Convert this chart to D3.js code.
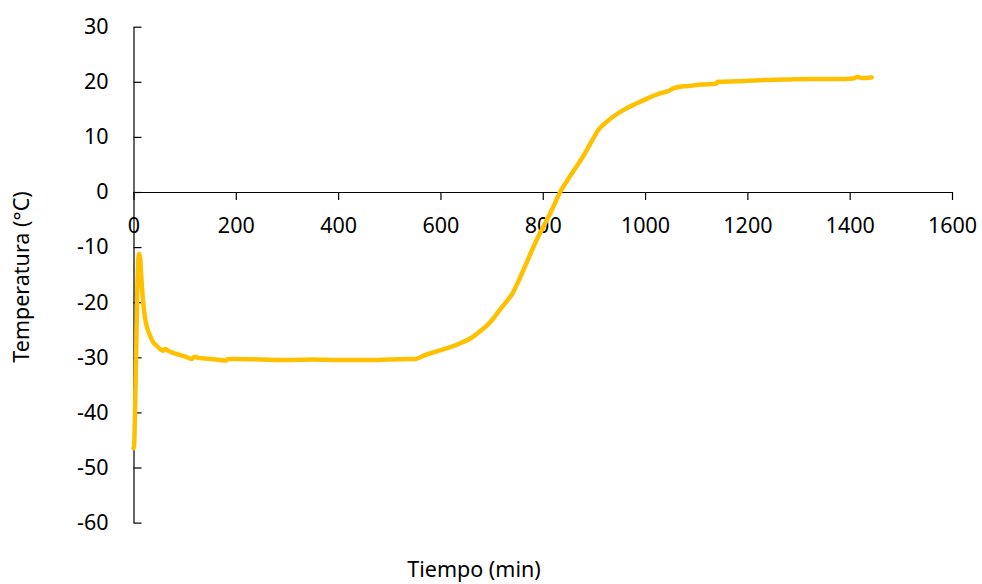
<!DOCTYPE html>
<html>
<head>
<meta charset="utf-8">
<script src="https://cdn.jsdelivr.net/npm/d3@7"></script>
<style>
  html, body { margin: 0; padding: 0; background: #fff; }
  svg { display: block; }
  text { font-family: "Noto Sans", "Open Sans", sans-serif; fill: #000; }
</style>
</head>
<body>
<svg id="chart" width="982" height="584"></svg>
<script>
const timeMin = [0, 1, 3, 5, 7, 9, 11, 13, 15, 18, 22, 26, 32, 38, 45, 52, 58, 62, 66, 75, 84, 95, 105, 114, 118, 122, 126, 140, 169, 180, 185, 200, 250, 300, 350, 400, 450, 500, 540, 550, 555, 570, 590, 612, 640, 660, 677, 690, 703, 716, 730, 742, 752, 762, 775, 788, 808, 820, 834, 848, 863, 875, 886, 898, 909, 922, 938, 960, 984, 1005, 1029, 1045, 1055, 1068, 1081, 1110, 1140, 1142, 1180, 1225, 1275, 1323, 1370, 1407, 1412, 1416, 1422, 1443];
const temperature = [-46.5, -46.3, -40, -30, -20, -13, -11.2, -12, -15, -19, -22.5, -24.4, -26, -27.2, -27.9, -28.5, -28.8, -28.5, -28.7, -29.1, -29.4, -29.7, -30.0, -30.3, -30.0, -29.9, -30.1, -30.2, -30.5, -30.6, -30.3, -30.3, -30.4, -30.5, -30.4, -30.5, -30.5, -30.4, -30.3, -30.3, -30.2, -29.6, -29.0, -28.4, -27.4, -26.5, -25.3, -24.3, -23.0, -21.4, -19.8, -18.2, -16.3, -14.2, -11.4, -8.7, -5.1, -2.8, 0, 2.1, 4.2, 5.9, 7.6, 9.6, 11.3, 12.5, 13.7, 15.0, 16.1, 17.0, 17.9, 18.3, 18.8, 19.1, 19.2, 19.5, 19.7, 20.0, 20.1, 20.3, 20.4, 20.5, 20.5, 20.6, 20.8, 20.9, 20.7, 20.8];
const xTicks = [0, 200, 400, 600, 800, 1000, 1200, 1400, 1600];
const yTicks = [30, 20, 10, 0, -10, -20, -30, -40, -50, -60];
const xTitle = "Tiempo (min)";
const yTitle = "Temperatura (°C)";

const svg = d3.select("#chart");
const x = d3.scaleLinear().domain([0, 1600]).range([133.5, 952]);
const y = d3.scaleLinear().domain([-60, 30]).range([522.6, 26.7]);

const data = timeMin.map((t, i) => ({ t, v: temperature[i] }));
const fmt = d => String(d);

// Y axis (ticks pointing into the plot)
const yAxis = svg.append("g")
  .attr("transform", `translate(${x(0)},0)`)
  .call(d3.axisLeft(y).tickValues(yTicks).tickFormat(fmt)
    .tickSizeInner(-8).tickSizeOuter(0).tickPadding(25));
yAxis.selectAll("text").style("font-size", "21.5px").attr("fill", "#000");
yAxis.selectAll("line, path").attr("stroke", "#000").attr("stroke-width", 1.2);

// X axis at y = 0
const xAxis = svg.append("g")
  .attr("transform", `translate(0,${y(0)})`)
  .call(d3.axisBottom(x).tickValues(xTicks).tickFormat(fmt)
    .tickSizeInner(8).tickSizeOuter(0).tickPadding(18));
xAxis.selectAll("text").style("font-size", "21.5px").attr("fill", "#000");
xAxis.selectAll("line, path").attr("stroke", "#000").attr("stroke-width", 1.2);

// Line
const line = d3.line().x(d => x(d.t)).y(d => y(d.v)).curve(d3.curveMonotoneX);
svg.append("path")
  .datum(data)
  .attr("fill", "none")
  .attr("stroke", "#FFC000")
  .attr("stroke-width", 4.5)
  .attr("stroke-linejoin", "round")
  .attr("stroke-linecap", "round")
  .attr("d", line);

// Titles
svg.append("text")
  .attr("x", 474).attr("y", 577)
  .attr("text-anchor", "middle")
  .style("font-size", "21.5px")
  .text(xTitle);

svg.append("text")
  .attr("transform", "translate(29,277) rotate(-90)")
  .attr("text-anchor", "middle")
  .style("font-size", "21.5px")
  .text(yTitle);
</script>
</body>
</html>
